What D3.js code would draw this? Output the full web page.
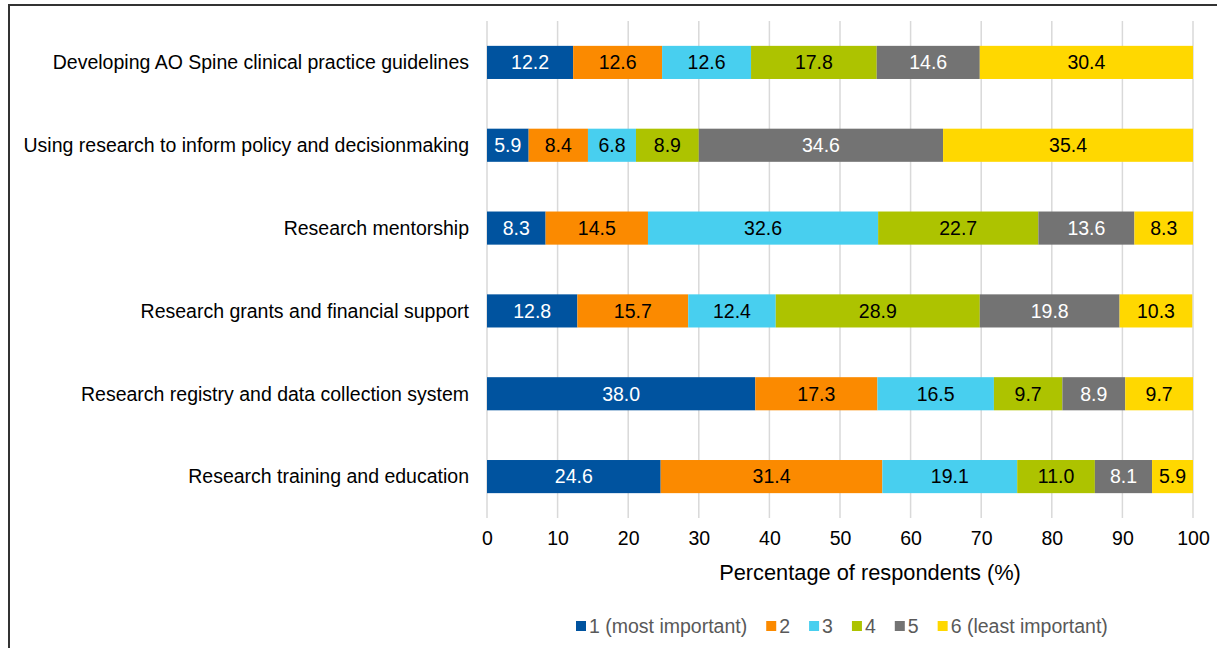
<!DOCTYPE html>
<html>
<head>
<meta charset="utf-8">
<script src="https://cdn.jsdelivr.net/npm/d3@7"></script>
<style>
  body { margin: 0; background: #fff; }
  svg { display: block; font-family: "Liberation Sans", Arial, sans-serif; }
</style>
</head>
<body>
<svg id="chart"></svg>
<script>
const categories = [
  "Developing AO Spine clinical practice guidelines",
  "Using research to inform policy and decisionmaking",
  "Research mentorship",
  "Research grants and financial support",
  "Research registry and data collection system",
  "Research training and education"
];
const seriesNames = ["1 (most important)", "2", "3", "4", "5", "6 (least important)"];
const rank1 = [12.2, 5.9, 8.3, 12.8, 38.0, 24.6];
const rank2 = [12.6, 8.4, 14.5, 15.7, 17.3, 31.4];
const rank3 = [12.6, 6.8, 32.6, 12.4, 16.5, 19.1];
const rank4 = [17.8, 8.9, 22.7, 28.9, 9.7, 11.0];
const rank5 = [14.6, 34.6, 13.6, 19.8, 8.9, 8.1];
const rank6 = [30.4, 35.4, 8.3, 10.3, 9.7, 5.9];
const xTicks = [0, 10, 20, 30, 40, 50, 60, 70, 80, 90, 100];

const colors = ["#00539f", "#fb8a00", "#48cfef", "#adc300", "#737373", "#ffd800"];
const labelColors = ["#fff", "#000", "#000", "#000", "#fff", "#000"];

const width = 1217, height = 648;
const svg = d3.select("#chart").attr("width", width).attr("height", height);

// frame around the figure
svg.append("path")
  .attr("d", `M9,${height} V5 H${width}`)
  .attr("fill", "none")
  .attr("stroke", "#333")
  .attr("stroke-width", 2);

const x = d3.scaleLinear().domain([0, 100]).range([487, 1193]);
const y = d3.scaleBand().domain(categories).range([21, 518]).paddingInner(0.6).paddingOuter(0.3);

const series = [rank1, rank2, rank3, rank4, rank5, rank6];
const table = categories.map((c, i) => {
  const row = { cat: c };
  seriesNames.forEach((s, j) => row[s] = series[j][i]);
  return row;
});
const stacked = d3.stack().keys(seriesNames)(table);

// gridlines
svg.append("g")
  .selectAll("line")
  .data(xTicks)
  .join("line")
  .attr("x1", d => x(d)).attr("x2", d => x(d))
  .attr("y1", 21).attr("y2", 518)
  .attr("stroke", "#d9d9d9")
  .attr("stroke-width", 1.5);

const layers = svg.append("g")
  .selectAll("g")
  .data(stacked)
  .join("g")
  .attr("fill", (d, i) => colors[i]);

layers.selectAll("rect")
  .data(d => d.map(s => Object.assign(s, { key: d.key })))
  .join("rect")
  .attr("x", d => x(d[0]))
  .attr("width", d => x(Math.min(d[1], 100)) - x(d[0]))
  .attr("y", d => y(d.data.cat))
  .attr("height", y.bandwidth());

layers.selectAll("text")
  .data(d => d)
  .join("text")
  .attr("x", d => (x(d[0]) + x(Math.min(d[1], 100))) / 2)
  .attr("y", d => y(d.data.cat) + y.bandwidth() / 2)
  .attr("dy", "0.35em")
  .attr("text-anchor", "middle")
  .attr("font-size", 19.5)
  .attr("fill", d => labelColors[seriesNames.indexOf(d.key)])
  .text(d => (d[1] - d[0]).toFixed(1));

// category labels
svg.append("g")
  .selectAll("text")
  .data(categories)
  .join("text")
  .attr("x", 469)
  .attr("y", d => y(d) + y.bandwidth() / 2)
  .attr("dy", "0.35em")
  .attr("text-anchor", "end")
  .attr("font-size", 19.5)
  .attr("fill", "#000")
  .text(d => d);

// x axis labels
const xAxis = svg.append("g")
  .attr("transform", "translate(0,527)")
  .call(d3.axisBottom(x).tickValues(xTicks).tickSize(0).tickPadding(4));
xAxis.select(".domain").remove();
xAxis.selectAll("text")
  .attr("font-size", 19.5)
  .attr("font-family", "Liberation Sans, Arial, sans-serif")
  .attr("fill", "#000");

svg.append("text")
  .attr("x", 870)
  .attr("y", 580)
  .attr("text-anchor", "middle")
  .attr("font-size", 21.8)
  .attr("fill", "#000")
  .text("Percentage of respondents (%)");

// legend
const legend = svg.append("g").attr("transform", "translate(576,626)");
let lx = 0;
seriesNames.forEach((s, i) => {
  const g = legend.append("g").attr("transform", `translate(${lx},0)`);
  g.append("rect").attr("x", 0).attr("y", -5).attr("width", 10).attr("height", 10).attr("fill", colors[i]);
  const t = g.append("text")
    .attr("x", 13)
    .attr("dy", "0.35em")
    .attr("font-size", 19.5)
    .attr("fill", "#595959")
    .text(s);
  lx += 13 + t.node().getComputedTextLength() + 19;
});
</script>
</body>
</html>
